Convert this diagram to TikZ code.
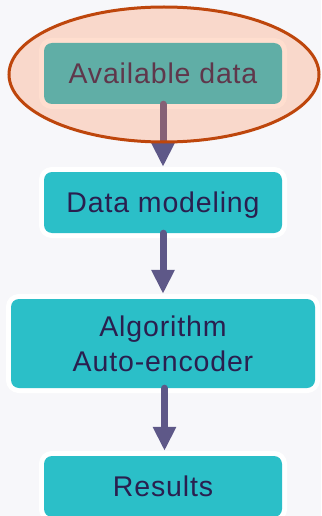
\documentclass[tikz,border=0pt]{standalone}
\usepackage{fontspec}
\setmainfont{Liberation Sans}[LetterSpace=3]
\usetikzlibrary{arrows.meta,shapes.geometric}
\definecolor{pagebg}{HTML}{F7F7FA}
\definecolor{boxfill}{HTML}{2BBFC8}
\definecolor{boxtext}{HTML}{2A1F4F}
\definecolor{flowarrow}{HTML}{5E5888}
\definecolor{ringline}{HTML}{BE460C}
\definecolor{ringfill}{HTML}{FF7F42}
\tikzset{
  x=1pt, y=1pt,
  stepbox/.style={
    rectangle, rounded corners=8pt, fill=boxfill, text=boxtext,
    font=\fontsize{28.5}{35}\selectfont, align=center,
    text height=20.4pt, text depth=0pt,
    minimum width=238pt, minimum height=61pt, inner sep=0pt,
    preaction={draw=white, line width=10pt}
  },
  flow/.style={
    draw=flowarrow, line width=7pt, line cap=round,
    -{Triangle[width=22pt,length=24pt]}
  },
}
\begin{document}
\begin{tikzpicture}
  \fill[pagebg] (0,0) rectangle (321,-516);
  \useasboundingbox (0,0) rectangle (321,-516);

  % process steps
  \node[stepbox] (avail) at (163,-73.5) {Available data};
  \node[stepbox] (model) at (163,-202.5) {Data modeling};
  \node[stepbox, minimum width=304pt, minimum height=89pt,
        text height=, text depth=] (algo) at (163,-343.5)
    {Algorithm\\Auto-encoder};
  \node[stepbox] (res) at (163,-486.5) {Results};

  % connectors
  \draw[flow] (avail.south) -- ([yshift=5pt]model.north);
  \draw[flow] (model.south) -- ([yshift=5pt]algo.north);
  \draw[flow] ([xshift=1.5pt]algo.south) -- ([xshift=1.5pt,yshift=5pt]res.north);

  % highlight ring round the input step
  \node[ellipse, draw=ringline, line width=3pt, fill=ringfill, fill opacity=0.25,
        minimum width=310pt, minimum height=135pt, inner sep=0pt] (ring) at (164,-74.5) {};
\end{tikzpicture}
\end{document}
